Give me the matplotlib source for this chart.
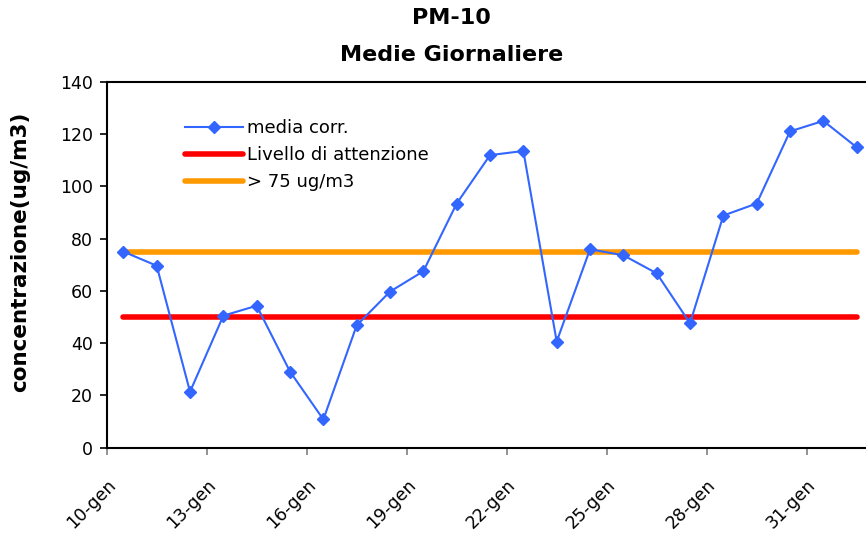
import matplotlib.pyplot as plt

# giorni 10-gen ... 1-feb
giorni = ['10-gen', '11-gen', '12-gen', '13-gen', '14-gen', '15-gen', '16-gen', '17-gen',
          '18-gen', '19-gen', '20-gen', '21-gen', '22-gen', '23-gen', '24-gen', '25-gen',
          '26-gen', '27-gen', '28-gen', '29-gen', '30-gen', '31-gen', '1-feb']
media_corr = [75.0, 69.6, 21.4, 50.5, 54.3, 29.1, 10.8, 46.8, 59.7, 67.5, 93.4, 111.9,
              113.5, 40.6, 75.9, 73.6, 66.7, 47.6, 88.8, 93.4, 121.0, 125.0, 114.9]
livello_attenzione = [50] * len(giorni)
soglia_75 = [75] * len(giorni)

x = [i + 0.5 for i in range(len(giorni))]

fig = plt.figure(figsize=(8.66, 5.37), dpi=100)
ax = fig.add_axes([0.1232, 0.1663, 0.8853, 0.6816])

ax.plot(x, media_corr, color='#3366FF', linewidth=1.5, marker='D', markersize=6,
        label='media corr.', zorder=3)
ax.plot(x, livello_attenzione, color='#FF0000', linewidth=4, solid_capstyle='round',
        label='Livello di attenzione', zorder=2)
ax.plot(x, soglia_75, color='#FF9900', linewidth=4, solid_capstyle='round',
        label='> 75 ug/m3', zorder=2)

ax.set_xlim(0, len(giorni))
ax.set_ylim(0, 140)
ax.set_yticks(range(0, 141, 20))
ax.set_xticks(range(0, len(giorni), 3))
ax.set_xticklabels(giorni[::3], rotation=45, ha='right', va='top', rotation_mode='anchor',
                   fontsize=12.5)
ax.tick_params(axis='y', labelsize=12.5, length=5, width=1.2, direction='out', pad=5)
ax.tick_params(axis='x', length=5, width=1.2, color='#808080', pad=15)
for s in ax.spines.values():
    s.set_linewidth(1.5)

ax.set_ylabel('concentrazione(ug/m3)', fontsize=15.5, fontweight='bold',
              family='DejaVu Sans')
ax.yaxis.set_label_coords(-77 / 766.7, (447.7 - 252) / 366)
fig.text(0.521, 1 - 18 / 537, 'PM-10', fontsize=16, fontweight='bold',
         ha='center', va='center')
fig.text(0.521, 1 - 55 / 537, 'Medie Giornaliere', fontsize=16, fontweight='bold',
         ha='center', va='center')

ax.legend(loc='upper left', bbox_to_anchor=(0.102, 0.897), frameon=False, fontsize=13,
          handlelength=3.2, handletextpad=0.25, labelspacing=0.49, borderaxespad=0,
          borderpad=0)

fig.savefig('out.png', dpi=100)
